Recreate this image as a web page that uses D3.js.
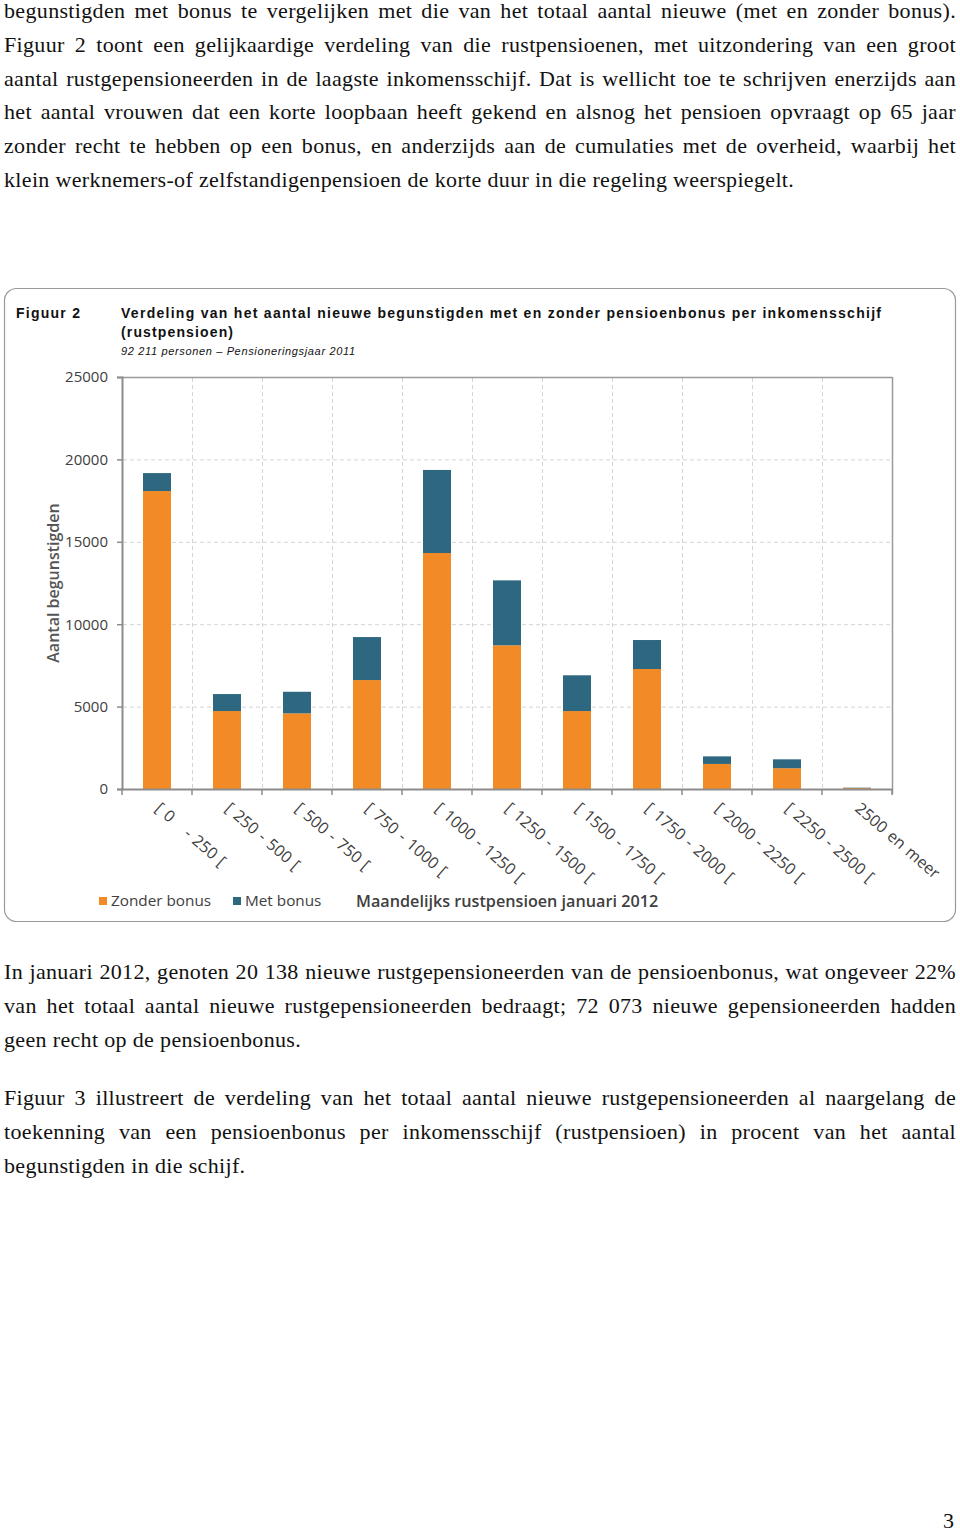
<!DOCTYPE html>
<html><head><meta charset="utf-8">
<script src="https://cdn.jsdelivr.net/npm/d3@7"></script>
<style>
body{margin:0;background:#fff;width:960px;height:1533px;position:relative;overflow:hidden}
.p{position:absolute;left:4px;width:952px;font-family:"Liberation Serif","Times New Roman",serif;font-size:22px;color:#111}
.l{height:33.8px;line-height:33.8px;text-align:justify;text-align-last:justify;white-space:nowrap}
.l.last{text-align:left;text-align-last:left}
svg{position:absolute;left:0;top:0}
</style></head>
<body>
<svg id="chart" width="960" height="1533"></svg>
<div class="p" id="p1" style="top:-6px"></div>
<div class="p" id="p2" style="top:955px"></div>
<div class="p" id="p3" style="top:1081px"></div>
<div class="p" style="top:1508px;left:943px;width:20px">3</div>
<script>
const para1 = [
 "begunstigden met bonus te vergelijken met die van het totaal aantal nieuwe (met en zonder bonus).",
 "Figuur 2 toont een gelijkaardige verdeling van die rustpensioenen, met uitzondering van een groot",
 "aantal rustgepensioneerden in de laagste inkomensschijf. Dat is wellicht toe te schrijven enerzijds aan",
 "het aantal vrouwen dat een korte loopbaan heeft gekend en alsnog het pensioen opvraagt op 65 jaar",
 "zonder recht te hebben op een bonus, en anderzijds aan de cumulaties met de overheid, waarbij het",
 "klein werknemers-of zelfstandigenpensioen de korte duur in die regeling weerspiegelt."
];
const para2 = [
 "In januari 2012, genoten 20 138 nieuwe rustgepensioneerden van de pensioenbonus, wat ongeveer 22%",
 "van het totaal aantal nieuwe rustgepensioneerden bedraagt; 72 073 nieuwe gepensioneerden hadden",
 "geen recht op de pensioenbonus."
];
const para3 = [
 "Figuur 3 illustreert de verdeling van het totaal aantal nieuwe rustgepensioneerden al naargelang de",
 "toekenning van een pensioenbonus per inkomensschijf (rustpensioen) in procent van het aantal",
 "begunstigden in die schijf."
];

const categories = ["[ 0\u2007\u2007- 250 [","[ 250 - 500 [","[ 500 - 750 [","[ 750 - 1000 [","[ 1000 - 1250 [","[ 1250 - 1500 [","[ 1500 - 1750 [","[ 1750 - 2000 [","[ 2000 - 2250 [","[ 2250 - 2500 [","2500 en meer"];
const zonderBonus = [18080, 4730, 4590, 6610, 14320, 8720, 4730, 7280, 1520, 1260, 60];
const metBonus    = [1090, 1030, 1310, 2610, 5040, 3940, 2170, 1760, 460, 540, 20];
const yTicks = [0, 5000, 10000, 15000, 20000, 25000];
const seriesNames = ["Zonder bonus", "Met bonus"];
const colors = ["#f28a25", "#2e6880"];

// body text: letter-spacing so the last line of paragraph 1 matches its width while every full line fits
const ctx = document.createElement("canvas").getContext("2d");
ctx.font = "22px 'Liberation Serif'";
const lastW = ctx.measureText(para1[5]).width;
let ls = (807 - lastW) / para1[5].length;
[para1, para2, para3].forEach(p => p.slice(0, -1).forEach(t => {
  const w = ctx.measureText(t).width;
  ls = Math.min(ls, (944 - w) / t.length);
}));
ls = Math.max(0, ls);

function fill(id, lines){
  const d = d3.select(id).style("letter-spacing", ls + "px");
  lines.forEach((t,i)=>{
    d.append("div").attr("class","l"+(i===lines.length-1?" last":"")).text(t);
  });
}
fill("#p1", para1); fill("#p2", para2); fill("#p3", para3);

const svg = d3.select("#chart");
const sans = "'Open Sans', 'DejaVu Sans', sans-serif";
const narrow = "'Liberation Sans Narrow', 'Liberation Sans', Arial, sans-serif";

// frame
svg.append("rect").attr("x",4.5).attr("y",288.5).attr("width",951).attr("height",633)
  .attr("rx",12).attr("fill","#fff").attr("stroke","#9a9a9a").attr("stroke-width",1.2);

// titles
svg.append("text").attr("x",16).attr("y",318).attr("font-family",narrow).attr("font-weight","bold")
  .attr("font-size",14).attr("fill","#111").attr("textLength",64).attr("lengthAdjust","spacing").text("Figuur 2");
svg.append("text").attr("x",121).attr("y",318).attr("font-family",narrow).attr("font-weight","bold")
  .attr("font-size",14).attr("fill","#111").attr("textLength",760).attr("lengthAdjust","spacing")
  .text("Verdeling van het aantal nieuwe begunstigden met en zonder pensioenbonus per inkomensschijf");
svg.append("text").attr("x",121).attr("y",337).attr("font-family",narrow).attr("font-weight","bold")
  .attr("font-size",14).attr("fill","#111").attr("textLength",112).attr("lengthAdjust","spacing")
  .text("(rustpensioen)");
svg.append("text").attr("x",121).attr("y",355).attr("font-family",narrow).attr("font-style","italic")
  .attr("font-size",11).attr("fill","#111").attr("textLength",234).attr("lengthAdjust","spacing")
  .text("92 211 personen – Pensioneringsjaar 2011");

const x = d3.scaleBand().domain(categories).range([122,892]).paddingInner(0.6).paddingOuter(0.3);
const y = d3.scaleLinear().domain([0,25000]).range([789,377]);
const step = x.step(), bw = x.bandwidth();
const boundary = c => x(c) - (step - bw)/2;

// grid
const g = svg.append("g");
g.selectAll("line.hg").data(yTicks.filter(t=>t>0 && t<25000)).join("line")
  .attr("x1",123).attr("x2",892).attr("y1",d=>y(d)+0.5).attr("y2",d=>y(d)+0.5)
  .attr("stroke","#d4d4d4").attr("stroke-dasharray","4,3");
g.selectAll("line.vg").data(categories.slice(1)).join("line")
  .attr("x1",d=>boundary(d)+0.5).attr("x2",d=>boundary(d)+0.5).attr("y1",378).attr("y2",789)
  .attr("stroke","#d4d4d4").attr("stroke-dasharray","4,3");

// bars
const stackData = categories.map((c,i)=>({cat:c, "Zonder bonus":zonderBonus[i], "Met bonus":metBonus[i]}));
const stack = d3.stack().keys(seriesNames)(stackData);
svg.append("g").selectAll("g").data(stack).join("g").attr("fill",(d,i)=>colors[i])
  .selectAll("rect").data(d=>d).join("rect")
  .attr("x",d=>x(d.data.cat)).attr("width",bw)
  .attr("y",d=>y(d[1])).attr("height",d=>y(d[0])-y(d[1]));

// plot frame top/right
svg.append("line").attr("x1",122).attr("x2",892.5).attr("y1",377.5).attr("y2",377.5).attr("stroke","#9a9a9a").attr("stroke-width",1.5);
svg.append("line").attr("x1",892.5).attr("x2",892.5).attr("y1",377).attr("y2",794).attr("stroke","#9a9a9a").attr("stroke-width",1.5);

// y axis
const yAxis = svg.append("g").attr("transform","translate(122,0)")
  .call(d3.axisLeft(y).tickValues(yTicks).tickSize(5).tickPadding(9).tickFormat(d3.format("d")));
yAxis.select(".domain").attr("stroke","#8c8c8c").attr("stroke-width",2);
yAxis.selectAll(".tick line").attr("stroke","#8c8c8c").attr("stroke-width",1.5);
yAxis.selectAll(".tick text").attr("font-family",sans).attr("font-size",15).attr("fill","#404040");

// x axis
svg.append("line").attr("x1",121).attr("x2",893).attr("y1",789.5).attr("y2",789.5).attr("stroke","#8c8c8c").attr("stroke-width",2);
svg.append("g").selectAll("line").data(categories.concat(["__end"])).join("line")
  .attr("x1",(d,i)=>122+i*step).attr("x2",(d,i)=>122+i*step).attr("y1",789).attr("y2",795)
  .attr("stroke","#8c8c8c").attr("stroke-width",1.5);
svg.append("g").selectAll("text").data(categories).join("text")
  .attr("transform",d=>`translate(${x(d)+bw/2-3},810) rotate(41)`)
  .attr("font-family",sans).attr("font-size",16).attr("word-spacing",1.5).attr("fill","#404040").text(d=>d);

// y label
svg.append("text").attr("transform","translate(59,583) rotate(-90)").attr("text-anchor","middle")
  .attr("font-family",sans).attr("font-weight",600).attr("font-size",16).attr("fill","#555").text("Aantal begunstigden");

// legend
const leg = [{n:seriesNames[0],x:99},{n:seriesNames[1],x:233}];
leg.forEach((l,i)=>{
  svg.append("rect").attr("x",l.x).attr("y",897).attr("width",8).attr("height",8).attr("fill",colors[i]);
  svg.append("text").attr("x",l.x+12).attr("y",906).attr("font-family",sans).attr("font-size",15.3).attr("fill","#404040").text(l.n);
});
svg.append("text").attr("x",356).attr("y",907).attr("font-family",sans).attr("font-weight",600)
  .attr("font-size",16.2).attr("fill","#404040").text("Maandelijks rustpensioen januari 2012");
</script>
</body></html>
